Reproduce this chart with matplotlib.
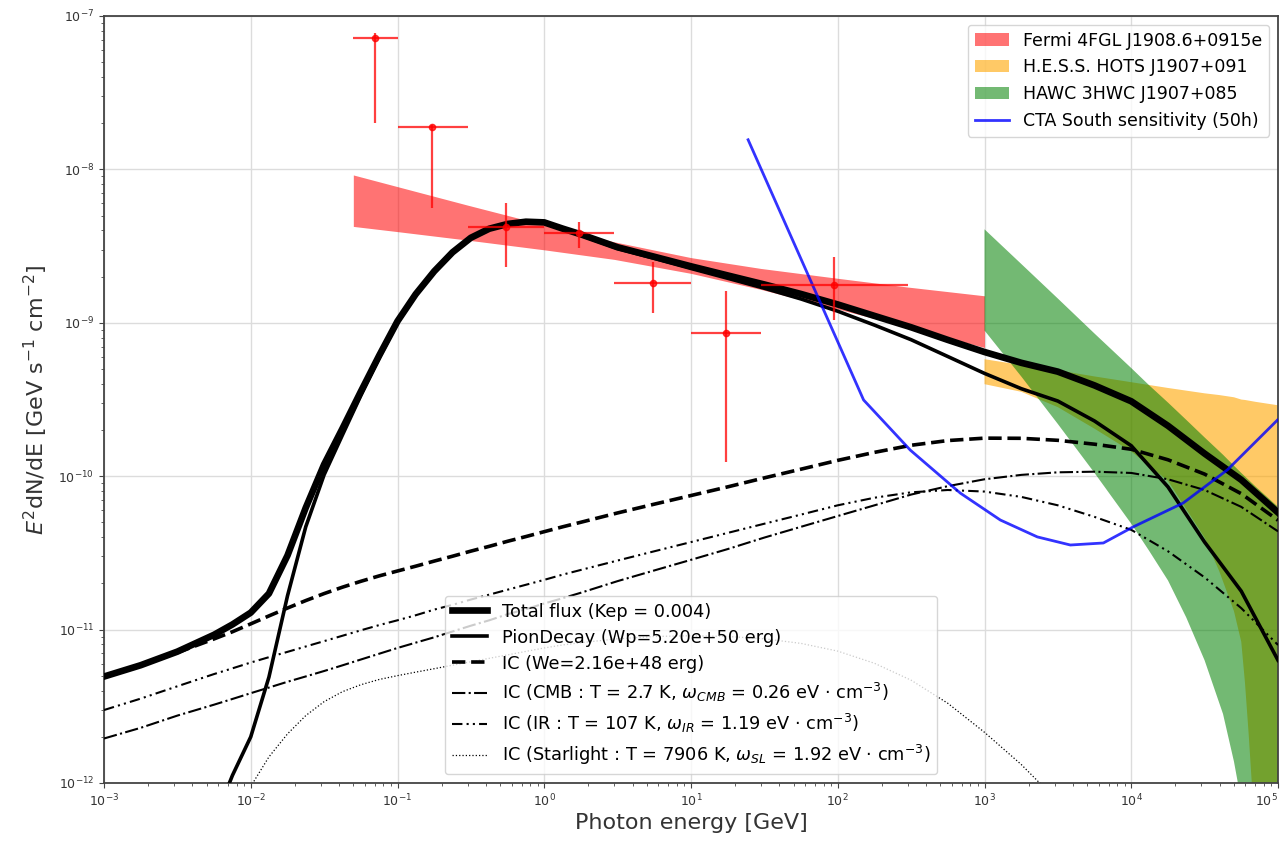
import numpy as np
import matplotlib
matplotlib.use("Agg")
import matplotlib.pyplot as plt

# ---------------- model components (E in GeV, E^2 dN/dE in GeV s^-1 cm^-2) ----------------
energy = [1.00e-3, 1.78e-3, 3.16e-3, 5.62e-3, 7.50e-3, 1.00e-2, 1.33e-2, 1.78e-2,
          2.37e-2, 3.16e-2, 4.22e-2, 5.62e-2, 7.50e-2, 1.00e-1, 1.33e-1, 1.78e-1,
          2.37e-1, 3.16e-1, 4.22e-1, 5.62e-1, 7.50e-1, 1.00e0, 1.33e0, 1.78e0,
          3.16e0, 5.62e0, 1.00e1, 1.78e1, 3.16e1, 5.62e1, 1.00e2, 1.78e2,
          3.16e2, 5.62e2, 1.00e3, 1.78e3, 3.16e3, 5.62e3, 1.00e4, 1.78e4,
          3.16e4, 5.62e4, 1.00e5]

pion_decay = [1.0e-15, 1.0e-14, 1.0e-13, 5.62e-13, 1.12e-12, 2.00e-12, 4.90e-12, 1.66e-11,
              4.68e-11, 1.02e-10, 1.86e-10, 3.35e-10, 5.89e-10, 1.00e-9, 1.51e-9, 2.14e-9,
              2.85e-9, 3.55e-9, 4.07e-9, 4.37e-9, 4.52e-9, 4.47e-9, 4.07e-9, 3.72e-9,
              3.05e-9, 2.63e-9, 2.26e-9, 1.95e-9, 1.68e-9, 1.43e-9, 1.19e-9, 9.66e-10,
              7.76e-10, 6.03e-10, 4.68e-10, 3.72e-10, 3.09e-10, 2.29e-10, 1.58e-10, 8.51e-11,
              3.72e-11, 1.78e-11, 6.31e-12]

ic_cmb = [1.95e-12, 2.29e-12, 2.75e-12, 3.24e-12, 3.53e-12, 3.85e-12, 4.19e-12, 4.57e-12,
          4.95e-12, 5.37e-12, 5.85e-12, 6.38e-12, 6.96e-12, 7.59e-12, 8.22e-12, 8.91e-12,
          9.72e-12, 1.06e-11, 1.15e-11, 1.26e-11, 1.36e-11, 1.48e-11, 1.60e-11, 1.74e-11,
          2.07e-11, 2.43e-11, 2.85e-11, 3.35e-11, 3.98e-11, 4.68e-11, 5.50e-11, 6.46e-11,
          7.59e-11, 8.61e-11, 9.55e-11, 1.02e-10, 1.06e-10, 1.07e-10, 1.05e-10, 9.55e-11,
          8.13e-11, 6.31e-11, 4.37e-11]

ic_ir = [2.99e-12, 3.55e-12, 4.27e-12, 5.13e-12, 5.59e-12, 6.10e-12, 6.61e-12, 7.16e-12,
         7.76e-12, 8.41e-12, 9.12e-12, 9.89e-12, 1.07e-11, 1.15e-11, 1.24e-11, 1.35e-11,
         1.45e-11, 1.57e-11, 1.69e-11, 1.82e-11, 1.96e-11, 2.11e-11, 2.28e-11, 2.45e-11,
         2.82e-11, 3.24e-11, 3.72e-11, 4.27e-11, 4.90e-11, 5.62e-11, 6.46e-11, 7.24e-11,
         7.85e-11, 8.13e-11, 7.94e-11, 7.33e-11, 6.46e-11, 5.43e-11, 4.47e-11, 3.24e-11,
         2.19e-11, 1.38e-11, 7.94e-12]

ic_starlight = [1.0e-15, 1.0e-14, 6.3e-14, 3.2e-13, 5.6e-13, 9.5e-13, 1.48e-12, 2.09e-12,
                2.75e-12, 3.39e-12, 3.94e-12, 4.37e-12, 4.73e-12, 5.01e-12, 5.28e-12, 5.56e-12,
                5.86e-12, 6.17e-12, 6.50e-12, 6.84e-12, 7.21e-12, 7.59e-12, 7.94e-12, 8.22e-12,
                8.71e-12, 9.02e-12, 9.12e-12, 9.02e-12, 8.71e-12, 8.13e-12, 7.24e-12, 6.03e-12,
                4.68e-12, 3.31e-12, 2.14e-12, 1.32e-12, 7.6e-13, 3.5e-13, 1.26e-13, 3.2e-14,
                6.3e-15, 1.0e-15, 1.0e-16]

# ---------------- Fermi-LAT flux points ----------------
fermi_e = [0.0707, 0.173, 0.548, 1.73, 5.48, 17.3, 94.9]
fermi_e_lo = [0.05, 0.1, 0.3, 1.0, 3.0, 10.0, 30.0]
fermi_e_hi = [0.1, 0.3, 1.0, 3.0, 10.0, 30.0, 300.0]
fermi_flux = [7.2e-8, 1.89e-8, 4.24e-9, 3.83e-9, 1.81e-9, 8.6e-10, 1.76e-9]
fermi_flux_lo = [2.0e-8, 5.6e-9, 2.32e-9, 3.06e-9, 1.15e-9, 1.24e-10, 1.04e-9]
fermi_flux_hi = [7.7e-8, 1.95e-8, 6.07e-9, 4.56e-9, 2.50e-9, 1.60e-9, 2.70e-9]

# ---------------- Fermi 4FGL spectral band ----------------
fermi_band_e = [0.05, 0.1, 0.3, 1.0, 3.0, 10.0, 30.0, 100.0, 300.0, 1000.0]
fermi_band_hi = [9.20e-9, 7.72e-9, 5.85e-9, 4.35e-9, 3.37e-9, 2.66e-9, 2.26e-9, 1.95e-9, 1.71e-9, 1.50e-9]
fermi_band_lo = [4.25e-9, 3.93e-9, 3.46e-9, 2.99e-9, 2.59e-9, 2.10e-9, 1.65e-9, 1.23e-9, 9.37e-10, 6.90e-10]

# ---------------- H.E.S.S. band ----------------
hess_e = [1.0e3, 1.78e3, 3.16e3, 5.62e3, 1.0e4, 1.78e4, 3.16e4, 3.98e4, 5.01e4, 5.62e4,
          5.96e4, 6.31e4, 6.68e4, 7.08e4, 1.0e5]
hess_hi = [5.79e-10, 5.31e-10, 4.90e-10, 4.47e-10, 4.10e-10, 3.76e-10, 3.47e-10, 3.38e-10,
           3.27e-10, 3.16e-10, 3.14e-10, 3.11e-10, 3.08e-10, 3.05e-10, 2.90e-10]
hess_lo = [3.98e-10, 3.55e-10, 2.82e-10, 2.04e-10, 1.45e-10, 9.33e-11, 3.98e-11, 2.40e-11,
           1.32e-11, 8.32e-12, 4.47e-12, 2.09e-12, 8.91e-13, 3.55e-13, 1.0e-16]

# ---------------- HAWC band ----------------
hawc_e = [1.0e3, 1.78e3, 3.16e3, 5.62e3, 1.0e4, 1.33e4, 1.78e4, 2.37e4, 3.16e4, 4.22e4,
          5.01e4, 5.62e4, 7.08e4, 1.0e5]
hawc_hi = [4.07e-9, 2.42e-9, 1.44e-9, 8.51e-10, 5.07e-10, 3.90e-10, 3.02e-10, 2.33e-10,
           1.79e-10, 1.38e-10, 1.17e-10, 1.05e-10, 8.51e-11, 6.31e-11]
hawc_lo = [8.91e-10, 4.47e-10, 2.19e-10, 1.05e-10, 4.90e-11, 3.24e-11, 2.09e-11, 1.20e-11,
           6.31e-12, 2.82e-12, 1.38e-12, 7.59e-13, 1.58e-13, 1.0e-14]

# ---------------- CTA South 50 h sensitivity ----------------
cta_e = [24.5, 150.0, 312.0, 684.0, 1282.0, 2291.0, 3846.0, 6457.0, 1.03e4, 2.26e4, 4.52e4, 9.9e4]
cta_sens = [1.56e-8, 3.14e-10, 1.48e-10, 7.76e-11, 5.18e-11, 4.02e-11, 3.56e-11, 3.67e-11,
            4.67e-11, 6.69e-11, 1.10e-10, 2.32e-10]

# axis decades
x_decades = [1e-3, 1e-2, 1e-1, 1e0, 1e1, 1e2, 1e3, 1e4, 1e5]
y_decades = [1e-12, 1e-11, 1e-10, 1e-9, 1e-8, 1e-7]

# ---------------- derived totals ----------------
ic_total = np.array(ic_cmb) + np.array(ic_ir) + np.array(ic_starlight)
total_flux = ic_total + np.array(pion_decay)

fig = plt.figure(figsize=(12.85, 8.48), dpi=100)
ax = fig.add_axes([104 / 1285, 1 - 783 / 848, (1278 - 104) / 1285, (783 - 16) / 848])
ax.set_xscale("log")
ax.set_yscale("log")

# data bands
h_fermi = ax.fill_between(fermi_band_e, fermi_band_lo, fermi_band_hi, color="red", alpha=0.55,
                          lw=0, zorder=1, label="Fermi 4FGL J1908.6+0915e")
h_hess = ax.fill_between(hess_e, hess_lo, hess_hi, color="orange", alpha=0.6, lw=0, zorder=1,
                         label="H.E.S.S. HOTS J1907+091")
h_hawc = ax.fill_between(hawc_e, hawc_lo, hawc_hi, color="green", alpha=0.55, lw=0, zorder=1,
                         label="HAWC 3HWC J1907+085")

# model curves
l_tot, = ax.plot(energy, total_flux, color="k", lw=4.8, zorder=3, solid_joinstyle="round",
                 label="Total flux (Kep = 0.004)")
l_pi, = ax.plot(energy, pion_decay, color="k", lw=2.6, zorder=3, solid_joinstyle="round",
                label="PionDecay (Wp=5.20e+50 erg)")
l_ic, = ax.plot(energy, ic_total, color="k", lw=2.6, ls="--", zorder=3,
                label="IC (We=2.16e+48 erg)")
l_cmb, = ax.plot(energy, ic_cmb, color="k", lw=1.5, ls="-.", zorder=3,
                 label=r"IC (CMB : T = 2.7 K, $\omega_{CMB}$ = 0.26 eV $\cdot$ cm$^{-3}$)")
l_ir, = ax.plot(energy, ic_ir, color="k", lw=1.5, ls=(0, (5, 2, 1, 2, 1, 2)), zorder=3,
                label=r"IC (IR : T = 107 K, $\omega_{IR}$ = 1.19 eV $\cdot$ cm$^{-3}$)")
l_sl, = ax.plot(energy, ic_starlight, color="k", lw=0.9, ls=":", zorder=3,
                label=r"IC (Starlight : T = 7906 K, $\omega_{SL}$ = 1.92 eV $\cdot$ cm$^{-3}$)")

# CTA sensitivity
l_cta, = ax.plot(cta_e, cta_sens, color="blue", lw=2.0, alpha=0.8, zorder=4,
                 label="CTA South sensitivity (50h)")

# Fermi flux points
fe = np.array(fermi_e)
ff = np.array(fermi_flux)
xerr = [fe - np.array(fermi_e_lo), np.array(fermi_e_hi) - fe]
yerr = [ff - np.array(fermi_flux_lo), np.array(fermi_flux_hi) - ff]
ax.errorbar(fe, ff, xerr=xerr, yerr=yerr, fmt="o", color="red", ecolor="red", alpha=0.75,
            ms=4.5, elinewidth=1.6, capsize=0, zorder=5)

ax.set_xlim(1e-3, 1e5)
ax.set_ylim(1e-12, 1e-7)
ax.set_xticks(x_decades)
ax.set_yticks(y_decades)
ax.grid(True, which="major", color="#dcdcdc", lw=1.0)
ax.set_axisbelow(True)
for s in ax.spines.values():
    s.set_color("#444444")
    s.set_linewidth(1.3)
ax.tick_params(which="both", labelsize=9, colors="#444444", labelcolor="#333333")
ax.set_xlabel("Photon energy [GeV]", fontsize=16, color="#333333", labelpad=3)
ax.set_ylabel(r"$E^2$dN/dE [GeV s$^{-1}$ cm$^{-2}$]", fontsize=16, color="#333333", labelpad=6)

# keep the rightmost energy label inside the figure
fig.canvas.draw()
xlabels = ax.get_xticklabels()
xlabels[-1].set_horizontalalignment("right")

leg_models = ax.legend(handles=[l_tot, l_pi, l_ic, l_cmb, l_ir, l_sl], loc="lower center",
                       fontsize=12.8, framealpha=0.8, labelspacing=0.45)
ax.add_artist(leg_models)
ax.legend(handles=[h_fermi, h_hess, h_hawc, l_cta], loc="upper right", fontsize=12.5,
          framealpha=0.8)

fig.savefig("out.png", dpi=100)
